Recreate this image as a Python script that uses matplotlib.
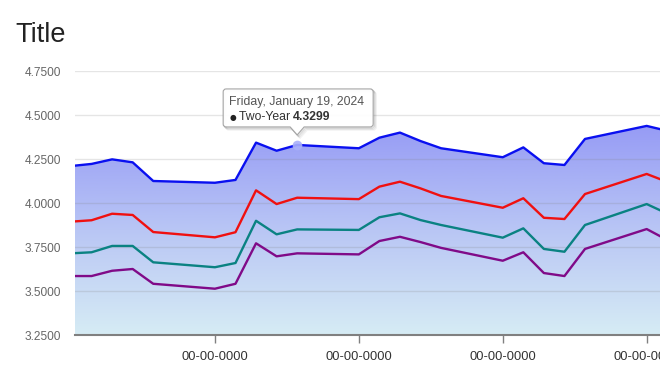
import matplotlib
matplotlib.use("Agg")
import matplotlib.pyplot as plt
import matplotlib.dates as mdates
import numpy as np
import pandas as pd
from matplotlib.colors import LinearSegmentedColormap
from matplotlib.patches import PathPatch
from matplotlib.path import Path
from matplotlib.transforms import IdentityTransform

plt.rcParams["font.family"] = ["Liberation Sans", "DejaVu Sans"]

# data (business days)
dates = pd.bdate_range("2024-01-08", "2024-02-06")
two_year = [4.210, 4.222, 4.248, 4.231, 4.125, 4.115, 4.131, 4.343, 4.297, 4.3299,
            4.311, 4.371, 4.400, 4.352, 4.311, 4.260, 4.316, 4.226, 4.216, 4.364,
            4.438, 4.410]
red_series = [3.894, 3.902, 3.939, 3.932, 3.835, 3.805, 3.834, 4.072, 3.994, 4.030,
              4.022, 4.093, 4.121, 4.083, 4.040, 3.973, 4.027, 3.916, 3.909, 4.051,
              4.165, 4.120]
teal_series = [3.714, 3.720, 3.756, 3.756, 3.663, 3.635, 3.659, 3.899, 3.822, 3.850,
               3.847, 3.919, 3.941, 3.903, 3.875, 3.803, 3.856, 3.739, 3.723, 3.875,
               3.994, 3.940]
purple_series = [3.585, 3.585, 3.615, 3.625, 3.541, 3.513, 3.541, 3.771, 3.697, 3.714,
                 3.708, 3.784, 3.808, 3.778, 3.745, 3.672, 3.720, 3.602, 3.585, 3.739,
                 3.852, 3.790]
y_ticks = [3.25, 3.5, 3.75, 4.0, 4.25, 4.5, 4.75]
x_ticks = pd.to_datetime(["2024-01-15", "2024-01-22", "2024-01-29", "2024-02-05"])
x_ticklabel = "00-00-0000"
hover_date = pd.Timestamp("2024-01-19")
hover_label = "Friday, January 19, 2024"
hover_series = "Two-Year"

W, H = 660, 386
fig = plt.figure(figsize=(W / 100, H / 100), dpi=100)
# plot area runs from x=75px past the right edge (chart is cropped)
ax = fig.add_axes([75 / W, (H - 335) / H, (700 - 75) / W, 264 / H])

xnum = mdates.date2num(dates)
px_per_day = 20.56
x_left = xnum[0] + 4 / px_per_day
xlim = (x_left, x_left + 625 / px_per_day)

# gradient area under the two-year line
area = ax.fill_between(xnum, two_year, 3.25, facecolor="none", edgecolor="none")
cmap = LinearSegmentedColormap.from_list("area", ["#d6ecf4", "#b9c6f5", "#969bf5"])
grad = np.linspace(0, 1, 256).reshape(-1, 1)
img = ax.imshow(grad, cmap=cmap, origin="lower", aspect="auto", zorder=1,
                extent=[xnum[0], xnum[-1], 3.25, max(two_year)])
img.set_clip_path(area.get_paths()[0], transform=ax.transData)

ax.plot(xnum, two_year, color="#0a10f0", lw=1.7, zorder=3)
ax.plot(xnum, red_series, color="#f01010", lw=1.7, zorder=3)
ax.plot(xnum, teal_series, color="#0a8282", lw=1.7, zorder=3)
ax.plot(xnum, purple_series, color="#800a88", lw=1.7, zorder=3)

# axes styling
ax.set_axisbelow("line")
ax.grid(axis="y", color=(0.5, 0.5, 0.5), alpha=0.2, lw=1)
ax.grid(axis="x", visible=False)
for s in ["left", "top", "right"]:
    ax.spines[s].set_visible(False)
ax.spines["bottom"].set_color("#808080")
ax.spines["bottom"].set_linewidth(1.5)
ax.spines["bottom"].set_zorder(4)

ax.set_yticks(y_ticks)
ax.set_yticklabels([f"{v:.4f}" for v in y_ticks])
ax.tick_params(axis="y", length=0, pad=10, labelsize=8.6, labelcolor="#666666")

ax.set_xticks(mdates.date2num(x_ticks))
ax.set_xticklabels([x_ticklabel] * len(x_ticks))
ax.tick_params(axis="x", direction="out", length=5.8, width=1, color="#808080",
               pad=5.5, labelsize=9.3, labelcolor="#333333")
ax.set_xlim(*xlim)
ax.set_ylim(3.25, 4.75)

fig.text(15 / W, 1 - 42 / H, "Title", fontsize=19.5, color="#222222", va="baseline", ha="left")

# hover marker + tooltip
hx = mdates.date2num(hover_date)
hy = two_year[list(dates).index(hover_date)]
ax.plot([hx], [hy], "o", ms=7, color="#a9b0fa", alpha=0.9, zorder=5, mec="none")

fig.canvas.draw()
px, py = ax.transData.transform((hx, hy))
tip_y = py + 10
bx0, bx1 = px - 74, px + 76
by0, by1 = tip_y + 8, tip_y + 46
r = 3


def tooltip_path(dx=0.0, dy=0.0):
    verts = [
        (bx0 + r, by0), (px - 7, by0), (px, tip_y), (px + 7, by0), (bx1 - r, by0),
        (bx1, by0), (bx1, by0 + r), (bx1, by1 - r), (bx1, by1), (bx1 - r, by1),
        (bx0 + r, by1), (bx0, by1), (bx0, by1 - r), (bx0, by0 + r), (bx0, by0),
        (bx0 + r, by0),
    ]
    codes = [Path.MOVETO, Path.LINETO, Path.LINETO, Path.LINETO, Path.LINETO,
             Path.CURVE3, Path.CURVE3, Path.LINETO, Path.CURVE3, Path.CURVE3,
             Path.LINETO, Path.CURVE3, Path.CURVE3, Path.LINETO, Path.CURVE3,
             Path.CURVE3]
    return Path([(x + dx, y + dy) for x, y in verts], codes)


for i, a in enumerate([0.12, 0.08, 0.05]):
    fig.add_artist(PathPatch(tooltip_path(1 + i, -1 - i), facecolor="none",
                             edgecolor="black", alpha=a, lw=1.2, transform=IdentityTransform(),
                             zorder=9))
fig.add_artist(PathPatch(tooltip_path(), facecolor="white", edgecolor="#a0a0a0", alpha=0.95,
                         lw=0.8, transform=IdentityTransform(), zorder=10))

fig.text((bx0 + 6) / W, (by1 - 13) / H, hover_label, fontsize=8.8, color="#555555",
         va="center", ha="left", zorder=11)
bullet = fig.text((bx0 + 6) / W, (by1 - 28.5) / H, "\u25cf", fontsize=5.5, color="#222222",
                  va="center", ha="left", zorder=11, family=["DejaVu Sans"])
fig.canvas.draw()
rend = fig.canvas.get_renderer()
bb = bullet.get_window_extent(rend)
name = fig.text((bb.x1 + 3) / W, (by1 - 28.5) / H, hover_series + " ", fontsize=8.8,
                color="#333333", va="center", ha="left", zorder=11)
bb = name.get_window_extent(rend)
fig.text(bb.x1 / W, (by1 - 28.5) / H, f"{hy:.4f}", fontsize=8.8, color="#333333",
         fontweight="bold", va="center", ha="left", zorder=11)

fig.savefig("out.png", dpi=100)
